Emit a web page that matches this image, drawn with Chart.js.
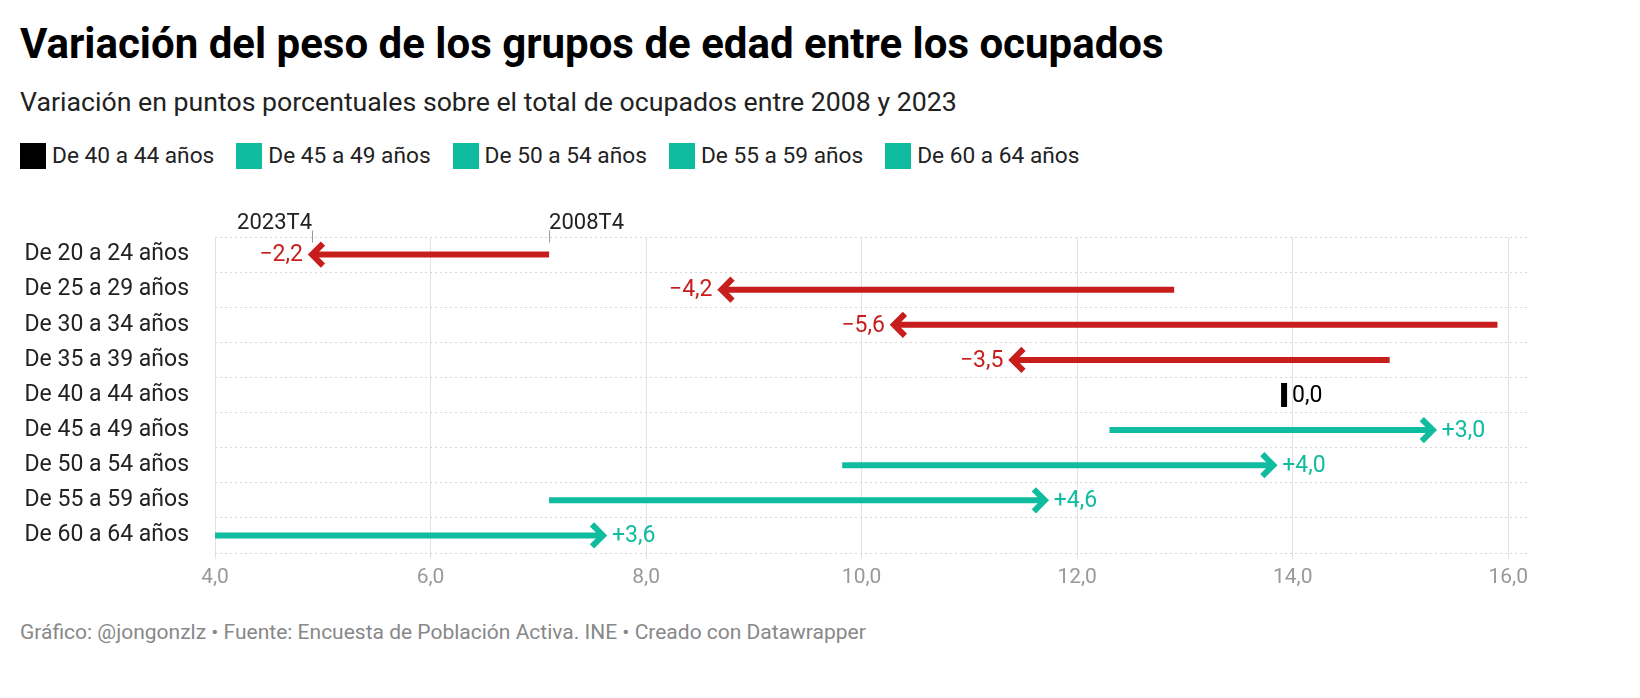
<!DOCTYPE html>
<html><head><meta charset="utf-8">
<script src="https://cdn.jsdelivr.net/npm/chart.js@4"></script>
<style>
body{margin:0;background:#fff;font-family:Roboto,sans-serif;width:1640px;height:698px;position:relative;overflow:hidden}
h1{position:absolute;left:20px;top:19px;margin:0;font-size:42px;font-weight:700;color:#000}
.sub{position:absolute;left:20px;top:86px;font-size:26.7px;color:#222}
.legend{position:absolute;left:20px;top:142px;font-size:22.7px;color:#222;display:flex}
.legend span{display:flex;align-items:center;margin-right:22px}
.legend i{display:inline-block;width:26px;height:26px;margin-right:6px}
.foot{position:absolute;left:20px;top:620px;font-size:21px;color:#888}
#wrap{position:absolute;left:10px;top:197px;width:1524px;height:400px}
</style></head><body>
<h1>Variación del peso de los grupos de edad entre los ocupados</h1>
<div class="sub">Variación en puntos porcentuales sobre el total de ocupados entre 2008 y 2023</div>
<div class="legend" id="legend"></div>
<div id="wrap"><canvas id="c"></canvas></div>
<div class="foot">Gráfico: @jongonzlz • Fuente: Encuesta de Población Activa. INE • Creado con Datawrapper</div>
<script>
const categories = ['De 20 a 24 años','De 25 a 29 años','De 30 a 34 años','De 35 a 39 años','De 40 a 44 años','De 45 a 49 años','De 50 a 54 años','De 55 a 59 años','De 60 a 64 años'];
const start2008 = [7.1, 12.9, 15.9, 14.9, 13.92, 12.3, 9.82, 7.1, 4.0];
const end2023 = [4.9, 8.7, 10.3, 11.4, 13.92, 15.3, 13.82, 11.7, 7.6];
const changes = ['−2,2','−4,2','−5,6','−3,5','0,0','+3,0','+4,0','+4,6','+3,6'];
const legendItems = ['De 40 a 44 años','De 45 a 49 años','De 50 a 54 años','De 55 a 59 años','De 60 a 64 años'];
const xTicks = [4, 6, 8, 10, 12, 14, 16];

const RED = '#c71e1d', GREEN = '#0fbc9f', BLACK = '#000';
const colorOf = i => start2008[i] === end2023[i] ? BLACK : (end2023[i] < start2008[i] ? RED : GREEN);

document.getElementById('legend').innerHTML = legendItems.map(l =>
  `<span><i style="background:${l === 'De 40 a 44 años' ? BLACK : GREEN}"></i>${l}</span>`).join('');

const arrows = {
  id: 'arrows',
  afterDatasetsDraw(chart) {
    const { ctx, scales: { x, y } } = chart;
    ctx.save();
    categories.forEach((c, i) => {
      const yy = y.getPixelForValue(i);
      const x0 = x.getPixelForValue(start2008[i]), x1 = x.getPixelForValue(end2023[i]);
      const col = colorOf(i);
      ctx.strokeStyle = col; ctx.fillStyle = col;
      ctx.font = '23px Roboto';
      ctx.textBaseline = 'middle';
      if (x0 === x1) {
        ctx.fillRect(x0 - 3, yy - 12, 6, 24);
        ctx.textAlign = 'left';
        ctx.fillText(changes[i], x0 + 8, yy + 1);
        return;
      }
      const dir = x1 > x0 ? 1 : -1;
      ctx.lineWidth = 6; ctx.lineCap = 'butt'; ctx.lineJoin = 'miter';
      ctx.beginPath(); ctx.moveTo(x0, yy); ctx.lineTo(x1, yy); ctx.stroke();
      ctx.beginPath();
      ctx.moveTo(x1 - dir * 11, yy - 11); ctx.lineTo(x1, yy); ctx.lineTo(x1 - dir * 11, yy + 11);
      ctx.stroke();
      ctx.textAlign = dir > 0 ? 'left' : 'right';
      ctx.fillText(changes[i], x1 + dir * 9, yy + 1);
    });
    // year annotations over first row
    const yy = y.getPixelForValue(0);
    ctx.fillStyle = '#222'; ctx.strokeStyle = '#999'; ctx.lineWidth = 1;
    ctx.font = '22px Roboto'; ctx.textBaseline = 'alphabetic';
    [[end2023[0], '2023T4', 'right'], [start2008[0], '2008T4', 'left']].forEach(([v, t, al]) => {
      const px = x.getPixelForValue(v);
      ctx.beginPath(); ctx.moveTo(px + 0.5, yy - 24); ctx.lineTo(px + 0.5, yy - 12); ctx.stroke();
      ctx.textAlign = al;
      ctx.fillText(t, px, yy - 26);
    });
    ctx.restore();
  }
};

new Chart(document.getElementById('c'), {
  type: 'bar',
  data: { labels: categories, datasets: [{ data: categories.map(() => null) }] },
  options: {
    indexAxis: 'y', responsive: true, maintainAspectRatio: false, animation: false,
    layout: { padding: { top: 40, right: 0 } },
    plugins: { legend: { display: false }, tooltip: { enabled: false } },
    scales: {
      x: {
        min: 4, max: 16.2,
        afterBuildTicks: s => { s.ticks = xTicks.map(v => ({ value: v })); },
        afterFit: s => { s.height = 44; },
        grid: { color: '#e2e2e2', drawTicks: true, tickLength: 6 },
        border: { display: false },
        ticks: { color: '#999', padding: 6, font: { family: 'Roboto', size: 21 }, callback: v => v.toFixed(1).replace('.', ',') }
      },
      y: {
        afterFit: s => { s.width = 205; },
        grid: { color: '#d6d6d6', drawTicks: false },
        border: { display: false, dash: [2, 3] },
        ticks: { color: '#222', padding: 26, font: { family: 'Roboto', size: 23 } }
      }
    }
  },
  plugins: [arrows]
});
</script>
</body></html>
